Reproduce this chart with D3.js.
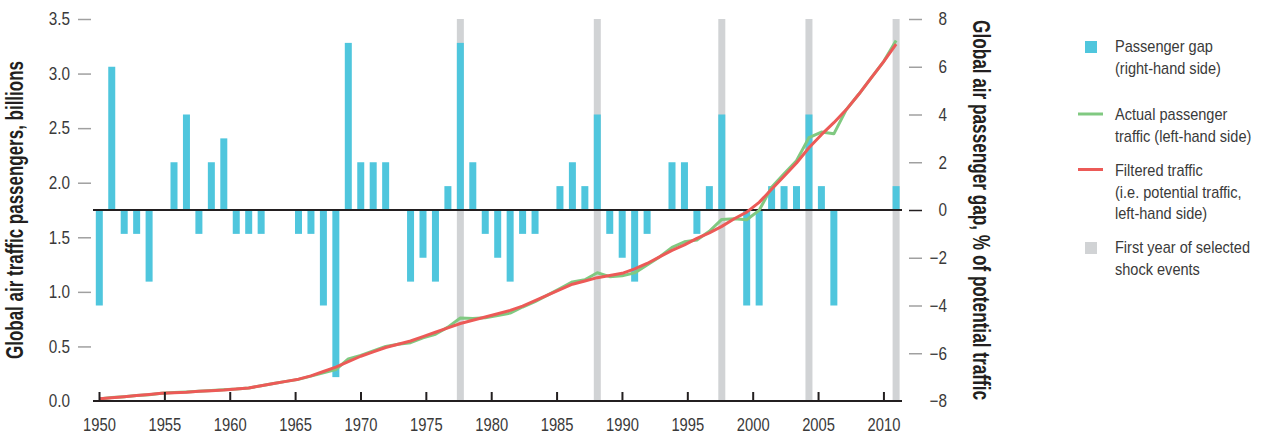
<!DOCTYPE html>
<html>
<head>
<meta charset="utf-8">
<script src="https://cdn.jsdelivr.net/npm/d3@7"></script>
<style>
  html, body { margin: 0; padding: 0; background: #fff; }
  svg { display: block; font-family: "Liberation Sans", Arial, sans-serif; }
</style>
</head>
<body>
<svg id="chart" width="1264" height="435"></svg>
<script>
// Passenger gap, % of potential traffic (right-hand axis), one value per period
const gapPct = [
  -4, 6, -1, -1, -3, 0, 2, 4, -1, 2,
   3, -1, -1, -1, 0, 0, -1, -1, -4, -7,
   7, 2, 2, 2, 0, -3, -2, -3, 1, 7,
   2, -1, -2, -3, -1, -1, 0, 1, 2, 1,
   4, -1, -2, -3, -1, 0, 2, 2, -1, 1,
   4, 0, -4, -4, 1, 1, 1, 4, 1, -4,
   0, 0, 0, 0, 1
];

// Actual passenger traffic, billions (left-hand axis)
const actualTraffic = [
  0.019, 0.032, 0.040, 0.050, 0.058, 0.070, 0.077, 0.083, 0.089, 0.097,
  0.103, 0.109, 0.119, 0.139, 0.160, 0.180, 0.198, 0.228, 0.259, 0.288,
  0.385, 0.418, 0.459, 0.500, 0.520, 0.534, 0.578, 0.611, 0.677, 0.760,
  0.755, 0.762, 0.784, 0.805, 0.861, 0.911, 0.970, 1.030, 1.091, 1.111,
  1.175, 1.139, 1.147, 1.174, 1.247, 1.320, 1.408, 1.459, 1.475, 1.555,
  1.664, 1.670, 1.661, 1.747, 1.959, 2.081, 2.202, 2.413, 2.464, 2.448,
  2.670, 2.810, 2.960, 3.110, 3.303
];

// Filtered (potential) traffic, billions (left-hand axis)
const filteredTraffic = [
  0.020, 0.030, 0.040, 0.050, 0.060, 0.070, 0.075, 0.080, 0.090, 0.095,
  0.100, 0.110, 0.120, 0.140, 0.160, 0.180, 0.200, 0.230, 0.270, 0.310,
  0.360, 0.410, 0.450, 0.490, 0.520, 0.550, 0.590, 0.630, 0.670, 0.710,
  0.740, 0.770, 0.800, 0.830, 0.870, 0.920, 0.970, 1.020, 1.070, 1.100,
  1.130, 1.150, 1.170, 1.210, 1.260, 1.320, 1.380, 1.430, 1.490, 1.540,
  1.600, 1.670, 1.730, 1.820, 1.940, 2.060, 2.180, 2.320, 2.440, 2.550,
  2.670, 2.810, 2.960, 3.110, 3.270
];

// Periods marking the first year of selected shock events
const shockPeriods = [29, 40, 50, 57, 64];

const yearTicks = [1950, 1955, 1960, 1965, 1970, 1975, 1980, 1985, 1990, 1995, 2000, 2005, 2010];
const trafficTicks = [0, 0.5, 1, 1.5, 2, 2.5, 3, 3.5];
const gapTicks = [-8, -6, -4, -2, 0, 2, 4, 6, 8];

const legendGap = ["Passenger gap", "(right-hand side)"];
const legendActual = ["Actual passenger", "traffic (left-hand side)"];
const legendFiltered = ["Filtered traffic", "(i.e. potential traffic,", "left-hand side)"];
const legendShock = ["First year of selected", "shock events"];

const colors = {
  gap: "#4fc6dd",
  shock: "#d1d3d5",
  actual: "#80c981",
  filtered: "#ec5a57",
  axis: "#231f20",
  tick: "#a0a0a0",
  text: "#3a3a3a"
};

const svg = d3.select("#chart");
const plotLeft = 99, plotRight = 896.5, plotTop = 19, plotBottom = 401;
const barWidth = 7;

const xYear = d3.scaleLinear().domain([1950, 2011]).range([plotLeft, plotRight]);
const xPeriod = d3.scalePoint().domain(d3.range(gapPct.length)).range([plotLeft + 0.3, plotRight - 0.4]);
const yTraffic = d3.scaleLinear().domain([0, 3.5]).range([plotBottom, plotTop]);
const yGap = d3.scaleLinear().domain([-8, 8]).range([plotBottom, plotTop]);

// Squeeze text horizontally to get a condensed face
function condense(sel, k) {
  sel.each(function () {
    const t = d3.select(this);
    const x = +t.attr("x") || 0;
    t.attr("x", x / k).attr("transform", `scale(${k},1)`);
  });
}

// Shock-event columns
svg.append("g").selectAll("rect")
  .data(shockPeriods)
  .join("rect")
  .attr("x", d => xPeriod(d) - barWidth / 2)
  .attr("y", plotTop)
  .attr("width", barWidth)
  .attr("height", plotBottom - plotTop)
  .attr("fill", colors.shock);

// Passenger gap bars
svg.append("g").selectAll("rect")
  .data(gapPct.map((v, i) => ({ i, v })).filter(d => d.v !== 0))
  .join("rect")
  .attr("x", d => xPeriod(d.i) - barWidth / 2)
  .attr("y", d => yGap(Math.max(0, d.v)))
  .attr("width", barWidth)
  .attr("height", d => Math.abs(yGap(d.v) - yGap(0)))
  .attr("fill", colors.gap);

// Zero line of the gap axis
svg.append("line")
  .attr("x1", xYear.range()[0] - 6).attr("x2", xYear.range()[1] + 5.5)
  .attr("y1", yGap(0)).attr("y2", yGap(0))
  .attr("stroke", colors.axis).attr("stroke-width", 2);

// Traffic lines
const line = data => d3.line()
  .x((d, i) => xPeriod(i))
  .y(d => yTraffic(d))(data);

svg.append("path")
  .attr("d", line(actualTraffic))
  .attr("fill", "none")
  .attr("stroke", colors.actual)
  .attr("stroke-width", 3)
  .attr("stroke-linejoin", "round");

svg.append("path")
  .attr("d", line(filteredTraffic))
  .attr("fill", "none")
  .attr("stroke", colors.filtered)
  .attr("stroke-width", 3)
  .attr("stroke-linejoin", "round");

// Bottom axis
const gx = svg.append("g")
  .attr("transform", `translate(0,${plotBottom})`)
  .call(d3.axisBottom(xYear)
    .tickValues(yearTicks)
    .tickFormat(d3.format("d"))
    .tickSizeInner(-9)
    .tickSizeOuter(0)
    .tickPadding(17));
gx.select(".domain").remove();
gx.selectAll(".tick line").attr("stroke", colors.axis).attr("stroke-width", 2);
gx.selectAll(".tick text")
  .attr("fill", colors.text)
  .attr("font-size", 18)
  .attr("font-family", null)
  .call(condense, 0.82);

svg.append("line")
  .attr("x1", xYear.range()[0] - 6).attr("x2", xYear.range()[1] + 5.5)
  .attr("y1", plotBottom).attr("y2", plotBottom)
  .attr("stroke", colors.axis).attr("stroke-width", 2);

// Left axis (traffic)
const gl = svg.append("g")
  .attr("transform", "translate(91,0)")
  .call(d3.axisLeft(yTraffic)
    .tickValues(trafficTicks)
    .tickFormat(d3.format(".1f"))
    .tickSize(13)
    .tickPadding(8));
gl.select(".domain").remove();
gl.selectAll(".tick line").attr("stroke", colors.tick).attr("stroke-width", 1.5);
gl.selectAll(".tick").filter(d => d === 0).select("line").remove();
gl.selectAll(".tick text")
  .attr("fill", colors.text)
  .attr("font-size", 18)
  .attr("font-family", null)
  .call(condense, 0.85);

// Right axis (gap)
const gr = svg.append("g")
  .attr("transform", "translate(909,0)")
  .call(d3.axisRight(yGap)
    .tickValues(gapTicks)
    .tickFormat(d3.format("d"))
    .tickSize(13)
    .tickPadding(25));
gr.select(".domain").remove();
gr.selectAll(".tick line").attr("stroke", colors.tick).attr("stroke-width", 1.5);
gr.selectAll(".tick").filter(d => d === 0).select("line").attr("stroke", colors.axis);
gr.selectAll(".tick").filter(d => d === -8).select("line").remove();
gr.selectAll(".tick text")
  .attr("fill", colors.text)
  .attr("font-size", 18)
  .attr("font-family", null)
  .attr("text-anchor", "end")
  .attr("x", 38)
  .call(condense, 0.85);

// Axis titles: bold face squeezed along the text direction to a fixed run length
function axisTitle(label, x, y, angle, runLength) {
  const t = svg.append("text")
    .attr("text-anchor", "middle")
    .attr("font-size", 23)
    .attr("font-weight", "bold")
    .attr("fill", colors.axis)
    .text(label);
  const k = runLength / t.node().getComputedTextLength();
  t.attr("transform", `translate(${x},${y}) rotate(${angle}) scale(${k},1)`);
}
axisTitle("Global air traffic passengers, billions", 23, yTraffic(1.75), -90, 298);
axisTitle("Global air passenger gap, % of potential traffic", 973, yGap(0), 90, 380);

// Legend
const legend = svg.append("g").attr("font-size", 16).attr("fill", colors.text);
const lineGap = 21.7;
function legendText(lines, y0) {
  legend.append("g").selectAll("text")
    .data(lines)
    .join("text")
    .attr("x", 1115)
    .attr("y", (d, i) => y0 + i * lineGap)
    .text(d => d)
    .call(condense, 0.91);
}

legend.append("rect").attr("x", 1085).attr("y", 41).attr("width", 12).attr("height", 12).attr("fill", colors.gap);
legendText(legendGap, 52);

legend.append("line").attr("x1", 1078).attr("x2", 1103).attr("y1", 114).attr("y2", 114)
  .attr("stroke", colors.actual).attr("stroke-width", 3);
legendText(legendActual, 120);

legend.append("line").attr("x1", 1078).attr("x2", 1103).attr("y1", 169.5).attr("y2", 169.5)
  .attr("stroke", colors.filtered).attr("stroke-width", 3);
legendText(legendFiltered, 176);

legend.append("rect").attr("x", 1085).attr("y", 242).attr("width", 12).attr("height", 12).attr("fill", colors.shock);
legendText(legendShock, 253.5);
</script>
</body>
</html>
